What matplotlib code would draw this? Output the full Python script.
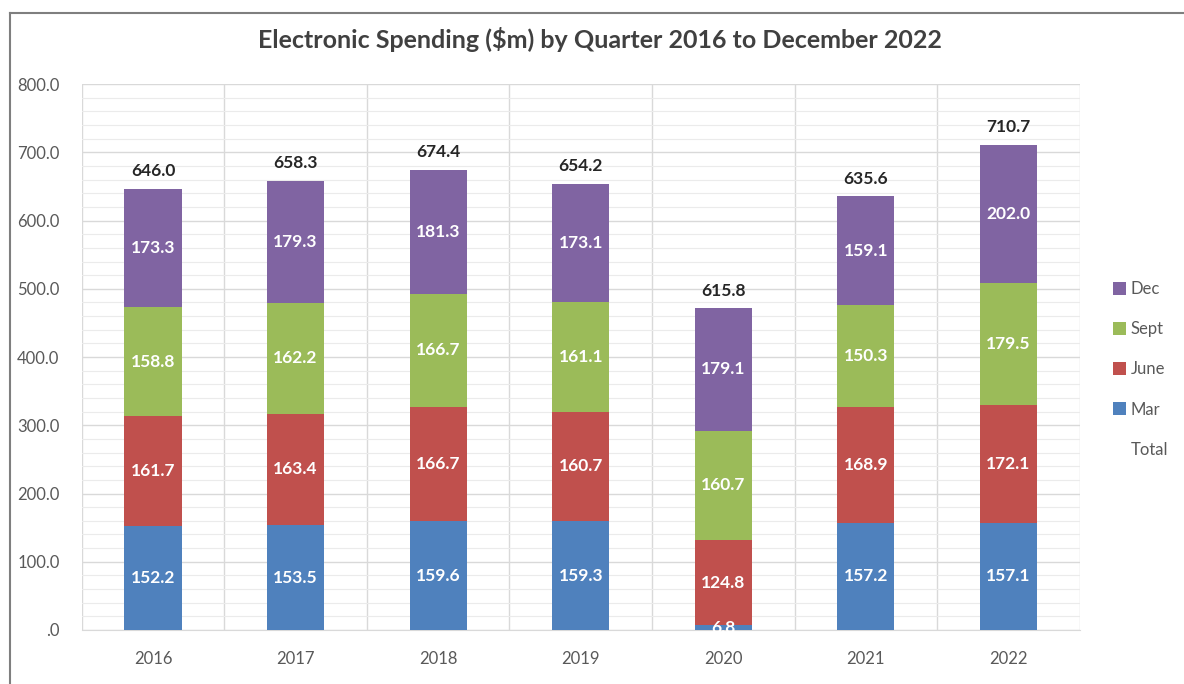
import matplotlib.pyplot as plt
import numpy as np
from matplotlib.patches import Patch
from matplotlib.ticker import MultipleLocator, FuncFormatter

years = ['2016', '2017', '2018', '2019', '2020', '2021', '2022']
mar = [152.2, 153.5, 159.6, 159.3, 6.8, 157.2, 157.1]
june = [161.7, 163.4, 166.7, 160.7, 124.8, 168.9, 172.1]
sept = [158.8, 162.2, 166.7, 161.1, 160.7, 150.3, 179.5]
dec = [173.3, 179.3, 181.3, 173.1, 179.1, 159.1, 202.0]
totals = [646.0, 658.3, 674.4, 654.2, 615.8, 635.6, 710.7]

quarters = [('Mar', mar, '#4F81BD'),
            ('June', june, '#C0504D'),
            ('Sept', sept, '#9BBB59'),
            ('Dec', dec, '#8064A2')]

plt.rcParams['font.family'] = ['Lato', 'DejaVu Sans']

fig = plt.figure(figsize=(11.84, 6.84), dpi=100)
ax = fig.add_axes([0.069, 0.079, 0.843, 0.798])

x = np.arange(len(years))
bottom = np.zeros(len(years))
handles = []
for name, vals, color in quarters:
    vals = np.array(vals)
    ax.bar(x, vals, 0.4, bottom=bottom, color=color, zorder=3)
    for xi, b, v in zip(x, bottom, vals):
        ax.text(xi, b + v / 2, f'{v:.1f}', ha='center', va='center',
                color='white', fontsize=12.5, fontweight='bold', zorder=4)
    bottom = bottom + vals
    handles.append(Patch(facecolor=color, label=name))

# total labels sit above the stacked bar
for xi, top, t in zip(x, bottom, totals):
    ax.annotate(f'{t:.1f}', (xi, top), xytext=(0, 7), textcoords='offset points',
                ha='center', va='bottom', fontsize=12.5, fontweight='bold', color='#262626')

ax.set_xlim(-0.5, len(years) - 0.5)
ax.set_ylim(0, 800)
ax.set_xticks(x)
ax.set_xticklabels(years)
ax.xaxis.set_minor_locator(MultipleLocator(1, offset=0.5))
ax.yaxis.set_major_locator(MultipleLocator(100))
ax.yaxis.set_minor_locator(MultipleLocator(20))
ax.yaxis.set_major_formatter(FuncFormatter(lambda v, p: '.0' if v == 0 else f'{v:.1f}'))
ax.grid(which='major', axis='y', color='#D9D9D9', lw=1, zorder=0)
ax.grid(which='minor', axis='y', color='#EBEBEB', lw=0.8, zorder=0)
ax.grid(which='minor', axis='x', color='#D9D9D9', lw=1, zorder=0)
ax.tick_params(which='both', length=0)
ax.tick_params(axis='both', labelsize=12, colors='#595959')
ax.tick_params(axis='x', pad=15)
ax.tick_params(axis='y', pad=16)
for s in ['top', 'right', 'left']:
    ax.spines[s].set_visible(False)
ax.spines['bottom'].set_color('#D9D9D9')

fig.text(0.507, 0.942, 'Electronic Spending ($m) by Quarter 2016 to December 2022',
         ha='center', va='center', fontsize=18, fontweight='bold', color='#404040')

handles = handles[::-1] + [Patch(facecolor='none', edgecolor='none', label='Total')]
fig.legend(handles=handles, loc='center left', bbox_to_anchor=(0.927, 0.46),
           frameon=False, fontsize=12, labelcolor='#595959', handlelength=0.8,
           handleheight=0.8, handletextpad=0.3, labelspacing=1.45)

# outer chart border
fig.add_artist(plt.Line2D([10 / 1184, 10 / 1184], [0, 1 - 13 / 684],
                          transform=fig.transFigure, color='#7F7F7F', lw=1.5))
fig.add_artist(plt.Line2D([10 / 1184, 1], [1 - 13 / 684, 1 - 13 / 684],
                          transform=fig.transFigure, color='#7F7F7F', lw=1.5))

fig.savefig('out.png', dpi=100, facecolor='white')
